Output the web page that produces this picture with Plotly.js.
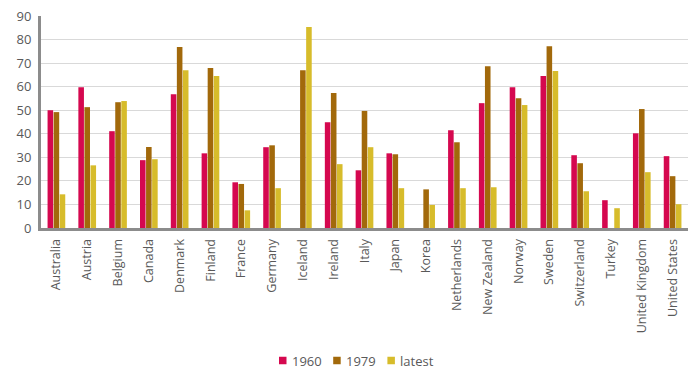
<!DOCTYPE html>
<html>
<head>
<meta charset="utf-8">
<script src="https://cdn.plot.ly/plotly-3.0.1.min.js"></script>
<style>html,body{margin:0;padding:0;background:#fff;}#chart{width:690px;height:374px;}</style>
</head>
<body>
<div id="chart"></div>
<script>
const countries = ["Australia","Austria","Belgium","Canada","Denmark","Finland","France","Germany","Iceland","Ireland","Italy","Japan","Korea","Netherlands","New Zealand","Norway","Sweden","Switzerland","Turkey","United Kingdom","United States"];
const v1960 = [50.0,59.8,41.1,28.8,56.8,31.7,19.4,34.3,null,44.9,24.5,31.7,null,41.5,53.0,59.8,64.5,30.9,11.8,40.2,30.5];
const v1979 = [49.2,51.3,53.4,34.4,76.8,67.9,18.7,35.1,67.0,57.3,49.7,31.3,16.4,36.4,68.7,55.1,77.2,27.5,null,50.5,22.0];
const vLatest = [14.3,26.6,53.9,29.2,67.0,64.5,7.5,16.9,85.3,27.1,34.3,16.9,9.8,16.9,17.3,52.2,66.6,15.6,8.4,23.7,10.1];
const seriesNames = ["1960","1979","latest"];
const seriesColors = ["#D5084F","#A2690B","#D7BC2B"];

const W = 690, H = 374, M = {l: 41, r: 2, t: 16, b: 146};
const pw = W - M.l - M.r, ph = H - M.t - M.b;
const px2x = p => (p - M.l) / pw;
const py2y = p => (H - M.b - p) / ph;

const font = {family: "Open Sans, sans-serif", size: 12.5, color: "#595959"};
const data = [v1960, v1979, vLatest].map((vals, i) => ({
  type: "bar", x: countries, y: vals, name: seriesNames[i],
  marker: {color: seriesColors[i]}, hoverinfo: "x+y", showlegend: false
}));

// custom legend: small square swatch + label
const legStart = 279, legStep = 54.2, sw = 7.5, legMid = 360.5;
const shapes = [], annotations = [];
seriesNames.forEach((n, i) => {
  const x0 = legStart + i * legStep;
  shapes.push({type: "rect", xref: "paper", yref: "paper",
    x0: px2x(x0), x1: px2x(x0 + sw), y0: py2y(legMid - sw / 2), y1: py2y(legMid + sw / 2),
    fillcolor: seriesColors[i], line: {width: 0}});
  annotations.push({xref: "paper", yref: "paper", x: px2x(x0 + sw + 3.5), y: py2y(legMid),
    xanchor: "left", yanchor: "middle", showarrow: false, text: n,
    font: {family: "Open Sans, sans-serif", size: 13, color: "#595959"}});
});

const layout = {
  width: W, height: H, margin: M,
  paper_bgcolor: "#fff", plot_bgcolor: "#fff",
  font: font,
  barmode: "group", bargap: 0.41, bargroupgap: 0.08,
  showlegend: false,
  shapes: shapes, annotations: annotations,
  xaxis: {type: "category", tickangle: -90, showline: true, linecolor: "#8C8C8C", linewidth: 3,
          ticks: "", showgrid: false, tickfont: font, automargin: false, ticklabelstandoff: 3},
  yaxis: {range: [0, 90], dtick: 10, showline: true, linecolor: "#8C8C8C", linewidth: 3,
          gridcolor: "#D9D9D9", gridwidth: 1, zeroline: false, ticks: "", tickfont: {family: "Open Sans, sans-serif", size: 13, color: "#595959"},
          automargin: false, ticklabelstandoff: 4}
};
Plotly.newPlot("chart", data, layout, {displayModeBar: false, staticPlot: true});
</script>
</body>
</html>
